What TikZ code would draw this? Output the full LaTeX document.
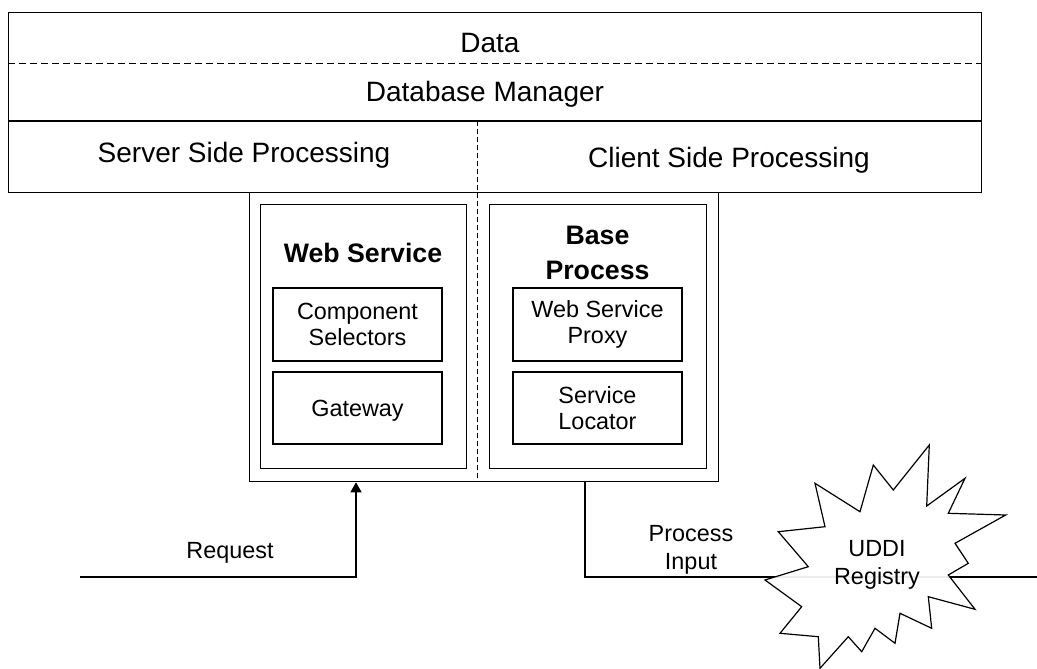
\documentclass[tikz,border=0pt]{standalone}
\usepackage{fontspec}
\setmainfont{Liberation Sans}
\usetikzlibrary{arrows.meta}
\begin{document}
\begin{tikzpicture}[x=1pt,y=-1pt,
  frame/.style={draw=black, line width=1.3pt, rectangle, inner sep=0pt, anchor=north west},
  subbox/.style={draw=black, line width=1.2pt, rectangle, inner sep=0pt, align=center,
    minimum width=169pt, font=\fontsize{23.4}{26.7}\selectfont},
  hdash/.style={draw=black, line width=1pt, dash pattern=on 7pt off 4pt},
  vdash/.style={draw=black, line width=1pt, dash pattern=on 5pt off 3pt},
  layertext/.style={inner sep=0pt, anchor=base, font=\fontsize{28}{32}\selectfont},
  titletext/.style={inner sep=0pt, align=center, font=\bfseries\fontsize{26.7}{35}\selectfont},
  labeltext/.style={inner sep=0pt, align=center, font=\fontsize{23.4}{28.3}\selectfont},
  conn/.style={draw=black, line width=1.3pt},
  tip/.style={-{Triangle[width=11pt,length=10pt]}}]
\useasboundingbox (0,0) rectangle (1037,669);

% layered block: data, database manager, processing split
\node[frame, minimum width=973pt, minimum height=180pt] (layers) at (8,12) {};
\draw[hdash] (layers.west |- 0,64) -- (layers.east |- 0,64);
\draw[line width=1.3pt] (layers.west |- 0,121) -- (layers.east |- 0,121);
\node[layertext] (data) at (490,53) {Data};
\node[layertext] (dbm) at (485,102) {Database Manager};
\node[layertext] (server) at (244,162) {Server Side Processing};
\node[layertext] (client) at (729,167) {Client Side Processing};

% application container
\node[frame, minimum width=469pt, minimum height=289pt] (outer) at (249,192) {};
\draw[vdash] (477,121) -- (outer.south -| 477,0);

% web service side
\node[frame, line width=1.2pt, minimum width=206pt, minimum height=264pt] (ws) at (260,204) {};
\node[titletext, anchor=base] (wstitle) at (363,262) {Web Service};
\node[subbox, minimum height=73pt] (selectors) at (357.5,324.5) {Component\\Selectors};
\node[subbox, minimum height=72pt, text depth=0pt] (gateway) at (357.5,408) {Gateway};

% base process side
\node[frame, line width=1.2pt, minimum width=217pt, minimum height=264pt] (bp) at (489,204) {};
\node[titletext] (bptitle) at (597.5,252.75) {Base\\Process};
\node[subbox, minimum height=73pt] (proxy) at (597.5,324.5) {Web Service\\Proxy};
\node[subbox, minimum height=72pt] (locator) at (597.5,408) {Service\\Locator};

% incoming request
\coordinate (reqsrc) at (80,577);
\coordinate (reqin) at (outer.south -| 356,0);
\draw[conn, tip] (reqsrc) -| (reqin);
\node[labeltext] (reqlabel) at (230,553) {Request};

% process input through the registry
\coordinate (procout) at (outer.south -| 585,0);
\coordinate (procend) at (1037,577);
\draw[conn] (procout) |- (procend);
\node[labeltext] (proclabel) at (691,549.8) {Process\\Input};

% UDDI registry burst
\draw[line width=1.2pt, fill=white, fill opacity=0.93, line join=miter]
  (929.3,445) -- (926.7,506) -- (965,478.3) -- (948.3,513.3) -- (1005.7,515)
  -- (955,543.3) -- (968.3,563.3) -- (948.3,575) -- (975,609.3) -- (928.3,596.7)
  -- (931.7,628.3) -- (900,613.3) -- (895,643.3) -- (875,628.3) -- (861.7,651.7)
  -- (848.3,636.7) -- (820,668.3) -- (818.3,636.7) -- (780,633.3) -- (801.7,606.7)
  -- (765,580) -- (808.3,566.7) -- (778.3,531.7) -- (825,526.7) -- (815,483.3)
  -- (860,511.7) -- (873.3,465) -- (893.3,490) -- cycle;
\node[labeltext, font=\fontsize{23.4}{28}\selectfont] (uddi) at (877,564.6) {UDDI\\Registry};
\end{tikzpicture}
\end{document}
